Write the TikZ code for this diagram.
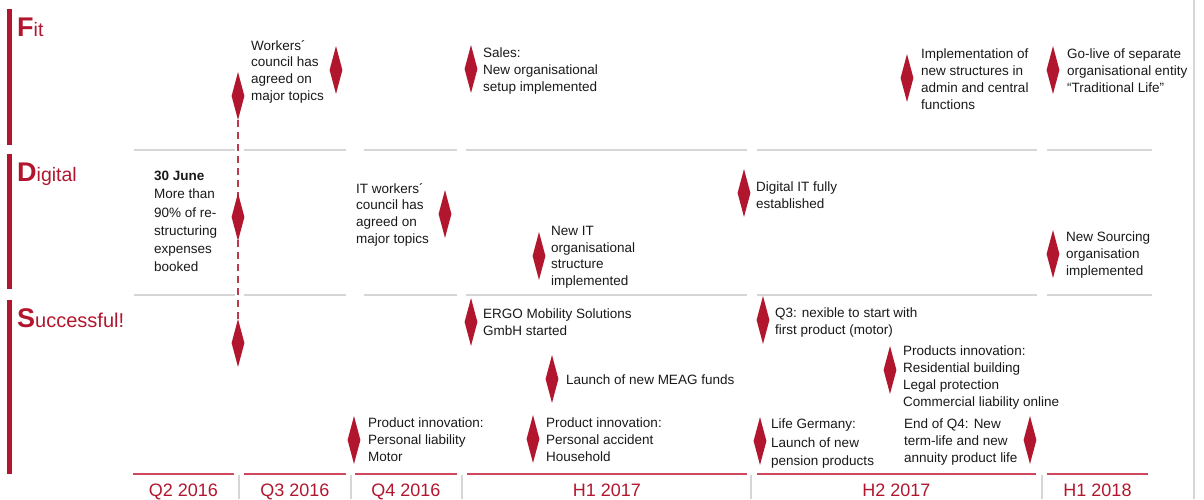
\documentclass[tikz,border=0pt]{standalone}
\usepackage{fontspec}
\setmainfont{Liberation Sans}
\usetikzlibrary{shapes.geometric,backgrounds}
\definecolor{ergored}{RGB}{178,22,46}
\definecolor{axisred}{RGB}{208,70,90}
\definecolor{sepgray}{RGB}{214,214,214}
\definecolor{txt}{RGB}{25,25,25}
\begin{document}
\begin{tikzpicture}[x=1pt,y=-1pt,
  marker/.style={diamond,fill=ergored,draw=none,inner sep=0pt,minimum width=13pt,minimum height=48pt},
  evt/.style={anchor=north west,inner sep=0pt,align=left,text=txt,font=\fontsize{13.5}{16.7}\selectfont},
  evtwide/.style={evt,font=\fontsize{13.5}{18.2}\selectfont},
  rowtitle/.style={anchor=base west,inner sep=0pt,text=ergored},
  axislabel/.style={anchor=base,inner sep=0pt,text=ergored,font=\fontsize{18}{18}\selectfont},
  axisline/.style={draw=axisred,line width=1.4pt},
  sepline/.style={draw=sepgray,line width=1.5pt},
  tick/.style={draw=sepgray,line width=1.2pt},
  bar/.style={fill=ergored},
  dashlink/.style={draw=ergored!85,line width=1.6pt,dash pattern=on 7pt off 5pt}]
\useasboundingbox (0,0) rectangle (1204,499);

% right border line
\draw[tick] (1194,0) -- (1194,499);

% left bars
\fill[bar] (7,9) rectangle (12,145);
\fill[bar] (7,154) rectangle (12,289);
\fill[bar] (7,300) rectangle (12,474);

% row titles
\node[rowtitle] (tfit) at (17,36) {{\fontsize{27}{27}\selectfont\bfseries F}{\fontsize{19.5}{19.5}\selectfont it}};
\node[rowtitle] (tdig) at (17,181) {{\fontsize{27}{27}\selectfont\bfseries D}{\fontsize{19.5}{19.5}\selectfont igital}};
\node[rowtitle] (tsuc) at (17,327) {{\fontsize{27}{27}\selectfont\bfseries S}{\fontsize{20}{20}\selectfont uccessful!}};

% row separators
\foreach \y in {150,295}{
  \foreach \a/\b in {134/235,244/346,364/457,466/747,757/1037,1047/1152}
    \draw[sepline] (\a,\y) -- (\b,\y);
}

% time axis
\foreach \a/\b in {133/234,244/346,355/457,467/747,757/1036,1047/1148}
  \draw[axisline] (\a,474) -- (\b,474);
\foreach \x in {239,351,462,751,1042}
  \draw[tick] (\x,475) -- (\x,499);
\node[axislabel] (q2) at (183.5,496) {Q2 2016};
\node[axislabel] (q3) at (295,496) {Q3 2016};
\node[axislabel] (q4) at (406,496) {Q4 2016};
\node[axislabel] (h17a) at (607,496) {H1 2017};
\node[axislabel] (h17b) at (896.5,496) {H2 2017};
\node[axislabel] (h18) at (1097.5,496) {H1 2018};

% markers
\node[marker] (d1) at (238,96) {};
\node[marker] (d2) at (336,70) {};
\node[marker] (d3) at (471,69) {};
\node[marker] (d4) at (907,78) {};
\node[marker] (d4b) at (1053,70) {};
\node[marker] (d5) at (238,217) {};
\node[marker] (d6) at (445,214) {};
\node[marker] (d7) at (744,193) {};
\node[marker] (d8) at (539,256) {};
\node[marker] (d9) at (1053,254) {};
\node[marker] (d10) at (238,343) {};
\node[marker] (d11) at (471,322) {};
\node[marker] (d12) at (763,320) {};
\node[marker] (d13) at (552,379) {};
\node[marker] (d14) at (890,370) {};
\node[marker] (d15) at (354,440) {};
\node[marker] (d16) at (533,439) {};
\node[marker] (d17) at (760,441) {};
\node[marker] (d18) at (1030,440) {};

\begin{scope}[on background layer]
  \draw[dashlink] (d1.south) -- (d10.north);
\end{scope}

% texts
\node[evt] (t2) at (251,40) {Workers´\\council has\\agreed on\\major topics};
\node[evt] (t3) at (483,48) {Sales:\\New organisational\\setup implemented};
\node[evt] (t4) at (921,49) {Implementation of\\new structures in\\admin and central\\functions};
\node[evt] (t4b) at (1067,49) {Go-live of separate\\organisational entity\\“Traditional Life”};
\node[evtwide] (t5) at (154,171) {\textbf{30 June}\\More than\\90\% of re-\\structuring\\expenses\\booked};
\node[evt] (t6) at (356,183) {IT workers´\\council has\\agreed on\\major topics};
\node[evt] (t7) at (756,182) {Digital IT fully\\established};
\node[evt] (t8) at (551,226) {New IT\\organisational\\structure\\implemented};
\node[evt] (t9) at (1066,232) {New Sourcing\\organisation\\implemented};
\node[evt] (t11) at (483,309) {ERGO Mobility Solutions\\GmbH started};
\node[evt] (t12) at (775,308) {Q3: nexible to start with\\first product (motor)};
\node[evt] (t13) at (566,375) {Launch of new MEAG funds};
\node[evt] (t14) at (903,346) {Products innovation:\\Residential building\\Legal protection\\Commercial liability online};
\node[evt] (t15) at (368,418) {Product innovation:\\Personal liability\\Motor};
\node[evt] (t16) at (546,418) {Product innovation:\\Personal accident\\Household};
\node[evtwide] (t17) at (771,419) {Life Germany:\\Launch of new\\pension products};
\node[evt] (t18) at (904,419) {End of Q4: New\\term-life and new\\annuity product life};
\end{tikzpicture}
\end{document}
